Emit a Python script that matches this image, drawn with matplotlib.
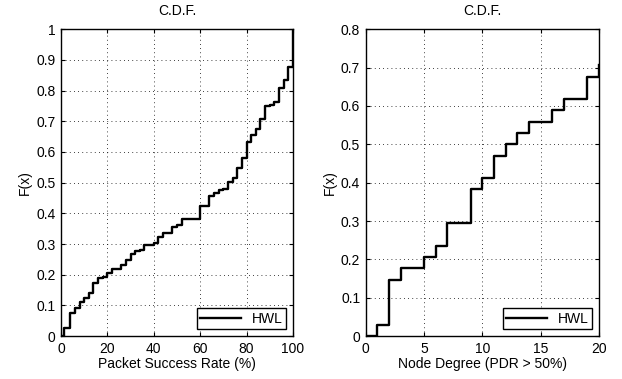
import numpy as np
import matplotlib
matplotlib.use("Agg")
import matplotlib.pyplot as plt

plt.rcParams['font.family'] = ['Liberation Sans', 'DejaVu Sans']
plt.rcParams['font.size'] = 10

# left panel: CDF of packet success rate (%)
psr_x = [0, 1.5, 4, 6, 8, 10, 12, 14, 16, 18, 20, 22, 26, 28, 30, 32, 34, 36, 40, 42,
         44, 48, 50, 52, 60, 64, 66, 68, 70, 72, 74, 76, 78, 80, 82, 84, 86, 88, 90, 92,
         94, 96, 98, 100]
psr_f = [0, 0.025, 0.077, 0.093, 0.11, 0.125, 0.14, 0.172, 0.188, 0.194, 0.207, 0.219,
         0.232, 0.249, 0.267, 0.276, 0.281, 0.296, 0.303, 0.322, 0.335, 0.354, 0.363,
         0.382, 0.423, 0.455, 0.468, 0.475, 0.481, 0.502, 0.516, 0.547, 0.58, 0.633,
         0.655, 0.675, 0.708, 0.749, 0.754, 0.762, 0.809, 0.836, 0.876, 1.0]

# right panel: CDF of node degree (PDR > 50%)
deg_x = [0, 1, 2, 3, 5, 6, 7, 9, 10, 11, 12, 13, 14, 16, 17, 19, 20]
deg_count = [0, 1, 5, 6, 7, 8, 10, 13, 14, 16, 17, 18, 19, 20, 21, 23, 24]
deg_f = [c / 34.0 for c in deg_count]

fig = plt.figure(figsize=(6.22, 3.79), dpi=100)
ax1 = fig.add_axes([0.098, 0.113, 0.373, 0.810])
ax2 = fig.add_axes([0.588, 0.113, 0.375, 0.810])


def style_axes(ax):
    ax.grid(True, color='black', linestyle=(0, (1, 4)), linewidth=0.6)
    ax.set_axisbelow(True)
    ax.tick_params(direction='in', length=3, width=0.8, top=True, right=True,
                   labelsize=10, pad=4)
    for sp in ax.spines.values():
        sp.set_linewidth(1.0)
    ax.set_title("C.D.F.", fontsize=10, pad=10)
    ax.set_ylabel("F(x)", fontsize=10, labelpad=3)
    leg = ax.legend(loc='lower right', fancybox=False, framealpha=1, edgecolor='black',
                    fontsize=10, handlelength=2.9, borderpad=0.25,
                    borderaxespad=0.5)
    leg.get_frame().set_linewidth(1.0)


ax1.step(psr_x, psr_f, where='post', color='black', linewidth=1.7, label='HWL')
ax1.set_xlim(0, 100)
ax1.set_ylim(0, 1)
ax1.set_xticks(np.arange(0, 101, 20))
ax1.set_yticks(np.arange(0, 1.01, 0.1))
ax1.set_yticklabels(['0', '0.1', '0.2', '0.3', '0.4', '0.5', '0.6', '0.7', '0.8', '0.9', '1'])
ax1.set_xlabel("Packet Success Rate (%)", fontsize=10, labelpad=1)
style_axes(ax1)

ax2.step(deg_x, deg_f, where='post', color='black', linewidth=1.7, label='HWL')
ax2.set_xlim(0, 20)
ax2.set_ylim(0, 0.8)
ax2.set_xticks(np.arange(0, 21, 5))
ax2.set_yticks(np.arange(0, 0.81, 0.1))
ax2.set_yticklabels(['0', '0.1', '0.2', '0.3', '0.4', '0.5', '0.6', '0.7', '0.8'])
ax2.set_xlabel("Node Degree (PDR > 50%)", fontsize=10, labelpad=1)
style_axes(ax2)

fig.savefig("out.png", dpi=100)
